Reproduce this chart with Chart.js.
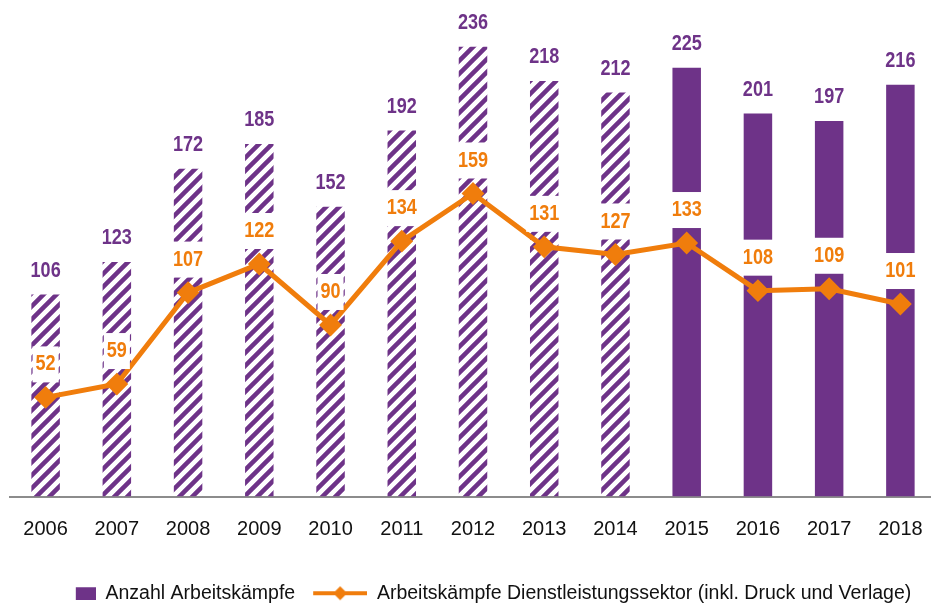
<!DOCTYPE html>
<html lang="de">
<head>
<meta charset="UTF-8">
<title>Arbeitskämpfe</title>
<script src="https://cdn.jsdelivr.net/npm/chart.js"></script>
<style>
  body { margin: 0; background: #fff; overflow: hidden; }
  #clip { width: 931px; height: 606px; overflow: hidden; }
  #wrap { width: 946px; height: 613px; }
</style>
</head>
<body>
<div id="clip"><div id="wrap"><canvas id="chart"></canvas></div></div>
<script>
const years = ['2006','2007','2008','2009','2010','2011','2012','2013','2014','2015','2016','2017','2018'];
const strikes = [106, 123, 172, 185, 152, 192, 236, 218, 212, 225, 201, 197, 216];
const serviceStrikes = [52, 59, 107, 122, 90, 134, 159, 131, 127, 133, 108, 109, 101];
// bars up to 2014 are hatched, from 2015 solid
const hatched = [true, true, true, true, true, true, true, true, true, false, false, false, false];

const PURPLE = '#6E3388';
const ORANGE = '#F07D0C';
const FONT = "'Liberation Sans', Arial, sans-serif";

function makeHatch() {
  const s = 13;
  const c = document.createElement('canvas');
  c.width = s; c.height = s;
  const g = c.getContext('2d');
  g.strokeStyle = PURPLE;
  g.lineWidth = 4.5;
  g.beginPath();
  g.moveTo(-s, 2 * s); g.lineTo(2 * s, -s);
  g.moveTo(-s, s); g.lineTo(s, -s);
  g.moveTo(0, 2 * s); g.lineTo(2 * s, 0);
  g.stroke();
  return g.createPattern(c, 'repeat');
}

// legend icons, both 61px wide so the spacing works out
function legendSquare() {
  const c = document.createElement('canvas');
  c.width = 61; c.height = 14;
  const g = c.getContext('2d');
  g.fillStyle = PURPLE;
  g.fillRect(41, 1, 20, 13);
  return c;
}

function legendLine() {
  const c = document.createElement('canvas');
  c.width = 61; c.height = 16;
  const g = c.getContext('2d');
  g.strokeStyle = ORANGE;
  g.lineWidth = 4;
  g.beginPath(); g.moveTo(7, 8); g.lineTo(61, 8); g.stroke();
  g.fillStyle = ORANGE;
  g.beginPath();
  g.moveTo(34, 1); g.lineTo(41, 8); g.lineTo(34, 15); g.lineTo(27, 8);
  g.closePath(); g.fill();
  return c;
}

const hatch = makeHatch();
const barColors = hatched.map(h => h ? hatch : PURPLE);

// narrow-looking bold text (no Arial Narrow here, so squeeze it)
function narrowText(ctx, txt, x, y) {
  ctx.save();
  ctx.translate(x, y);
  ctx.scale(0.82, 1);
  ctx.fillText(txt, 0, 0);
  ctx.restore();
}

// value labels; the orange ones sit on a white box
const valueLabels = {
  id: 'valueLabels',
  afterDatasetsDraw(chart) {
    const ctx = chart.ctx;
    ctx.save();
    ctx.font = 'bold 22px ' + FONT;
    ctx.textAlign = 'center';
    ctx.textBaseline = 'middle';
    chart.getDatasetMeta(1).data.forEach((bar, i) => {
      ctx.fillStyle = PURPLE;
      narrowText(ctx, String(strikes[i]), bar.x, bar.y - 24);
    });
    chart.getDatasetMeta(0).data.forEach((pt, i) => {
      const txt = String(serviceStrikes[i]);
      const y = pt.y - 33;
      const w = ctx.measureText(txt).width * 0.82 + 6;
      ctx.fillStyle = '#fff';
      ctx.fillRect(pt.x - w / 2, y - 18, w, 36);
      ctx.fillStyle = ORANGE;
      narrowText(ctx, txt, pt.x, y);
    });
    ctx.restore();
  }
};

new Chart(document.getElementById('chart'), {
  data: {
    labels: years,
    datasets: [
      {
        type: 'line',
        label: 'Arbeitskämpfe Dienstleistungssektor (inkl. Druck und Verlage)',
        data: serviceStrikes,
        borderColor: ORANGE,
        backgroundColor: ORANGE,
        borderWidth: 5,
        pointStyle: 'rectRot',
        pointRadius: 10,
        pointBorderWidth: 2,
        pointBackgroundColor: ORANGE,
        pointBorderColor: ORANGE,
        tension: 0,
        order: 0
      },
      {
        type: 'bar',
        label: 'Anzahl Arbeitskämpfe',
        data: strikes,
        backgroundColor: barColors,
        barPercentage: 0.4,
        categoryPercentage: 1,
        order: 1
      }
    ]
  },
  options: {
    responsive: true,
    maintainAspectRatio: false,
    animation: false,
    layout: { autoPadding: false, padding: { left: 10, right: 10, top: 1, bottom: 0 } },
    scales: {
      x: {
        grid: { display: false },
        border: { display: true, color: '#8c8c8c', width: 2 },
        ticks: { color: '#111', font: { family: FONT, size: 20 }, padding: 13 },
        afterFit(scale) { scale.height += 18; }
      },
      y: {
        display: false,
        min: 0,
        max: 260
      }
    },
    plugins: {
      tooltip: { enabled: false },
      legend: {
        position: 'bottom',
        labels: {
          usePointStyle: true,
          pointStyleWidth: 61,
          padding: 11,
          color: '#111',
          font: { family: FONT, size: 19.5 },
          generateLabels(chart) {
            return [
              { text: 'Anzahl Arbeitskämpfe', pointStyle: legendSquare(), datasetIndex: 1, hidden: false, lineWidth: 0, strokeStyle: 'rgba(0,0,0,0)', fillStyle: PURPLE, fontColor: '#111' },
              { text: 'Arbeitskämpfe Dienstleistungssektor (inkl. Druck und Verlage)', pointStyle: legendLine(), datasetIndex: 0, hidden: false, lineWidth: 0, strokeStyle: 'rgba(0,0,0,0)', fillStyle: ORANGE, fontColor: '#111' }
            ];
          }
        }
      }
    }
  },
  plugins: [valueLabels]
});
</script>
</body>
</html>
